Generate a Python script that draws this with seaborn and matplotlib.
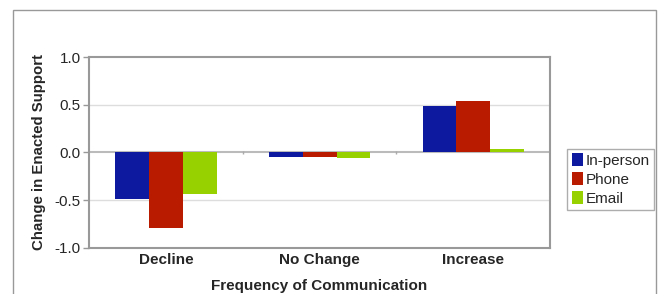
import pandas as pd
import seaborn as sns
import matplotlib.pyplot as plt
from matplotlib.patches import Rectangle

# values
categories = ['Decline', 'No Change', 'Increase']
modes = ['In-person', 'Phone', 'Email']
in_person = [-0.49, -0.05, 0.49]
phone = [-0.79, -0.05, 0.54]
email = [-0.44, -0.06, 0.04]
yticks = [-1.0, -0.5, 0.0, 0.5, 1.0]

palette = ['#0D1A9F', '#B81B00', '#97D100']

df = pd.DataFrame({
    'Frequency': categories * 3,
    'Mode': [m for m in modes for _ in categories],
    'Change': in_person + phone + email,
})

sns.set_style('white')
plt.rcParams['font.family'] = ['Liberation Sans', 'DejaVu Sans']

fig = plt.figure(figsize=(6.59, 2.94), dpi=100)
ax = fig.add_axes([0.135, 0.157, 0.700, 0.649])

sns.barplot(data=df, x='Frequency', y='Change', hue='Mode', hue_order=modes,
            palette=palette, width=0.66, saturation=1, linewidth=0,
            ax=ax, zorder=3)

ax.set_ylim(-1.0, 1.0)
ax.set_xlim(-0.5, 2.5)
ax.set_yticks(yticks)
ax.set_yticklabels([f'{t:.1f}' for t in yticks], fontsize=11)
ax.tick_params(axis='y', length=4, width=1, color='#999999', pad=2, left=True)
ax.tick_params(axis='x', length=0, pad=4)
for lab in ax.get_xticklabels():
    lab.set_fontweight('bold')
    lab.set_fontsize(11)

# grid lines and zero line
for t in yticks:
    if t not in (-1.0, 1.0, 0.0):
        ax.axhline(t, color='#DDDDDD', lw=1, zorder=1)
ax.axhline(0, color='#BBBBBB', lw=1.5, zorder=2)
ax.vlines([0.5, 1.5], -0.02, 0.02, color='#AAAAAA', lw=1, zorder=2)

for s in ax.spines.values():
    s.set_visible(True)
    s.set_color('#999999')
    s.set_linewidth(1.5)

ax.set_xlabel('Frequency of Communication', fontweight='bold', fontsize=11, labelpad=8)
ax.set_ylabel('Change in Enacted Support', fontweight='bold', fontsize=10.8, labelpad=6)

leg = ax.legend(loc='center left', bbox_to_anchor=(1.037, 0.359), frameon=True,
                fontsize=11, handlelength=0.75, handleheight=0.9, handletextpad=0.15,
                borderpad=0.3, labelspacing=0.28, fancybox=False, borderaxespad=0)
leg.get_frame().set_edgecolor('#999999')
leg.get_frame().set_linewidth(1)

# outer chart frame (bottom edge falls below the image)
fig.patches.append(Rectangle((13 / 659, -0.1), (656 - 13) / 659, 1 - 10 / 294 + 0.1,
                             transform=fig.transFigure, fill=False,
                             edgecolor='#999999', lw=1))

plt.savefig('out.png', dpi=100)
plt.close()
